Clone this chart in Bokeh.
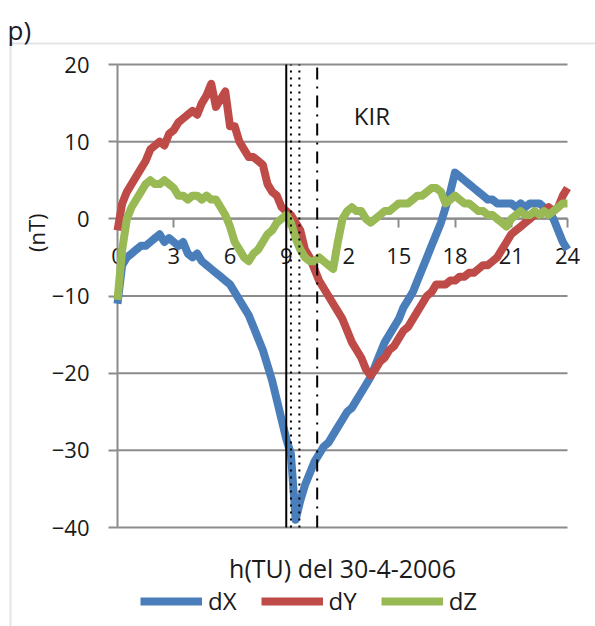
import math
from bokeh.plotting import figure
from bokeh.models import Label, Legend, LegendItem, FixedTicker, ColumnDataSource, BoxAnnotation
from bokeh.embed import file_html
from bokeh.resources import INLINE

# ---------------- data ----------------
hours = [i * 0.25 for i in range(97)]

dX = [-11, -6, -5, -4.5, -4, -3.5, -3.5, -3, -2.5, -2, -3, -2.5,
      -3, -3.5, -3, -4.5, -5, -4.5, -5.5, -6, -6.5, -7, -7.5, -8,
      -8.5, -9.5, -10.5, -11.5, -12.5, -14, -15.5, -17, -19, -21, -23.5, -26,
      -28.5, -30.5, -39, -36.5, -34.5, -33, -31.5, -30.5, -29.5, -29, -28, -27,
      -26, -25, -24.5, -23.5, -22.5, -21.5, -20.5, -19, -17.5, -16, -15, -14,
      -13, -11.5, -10.5, -9.5, -8, -6.5, -5, -3.5, -2, -0.5, 1.5, 3.5,
      6, 5.5, 5, 4.5, 4, 3.5, 3, 2.5, 2.5, 2, 2, 2,
      2, 1.5, 2, 1.5, 2, 2, 2, 1.5, 1, 0, -1.5, -3, -4]

dY = [-1.5, 2, 3.5, 4.5, 5.5, 6.5, 7.5, 9, 9.5, 10, 9.5, 11,
      11.5, 12.5, 13, 13.5, 14, 13.5, 15, 16, 17.5, 14.5, 15.5, 16.5,
      12, 12, 10, 9, 8, 8, 7.5, 7, 4.5, 3.5, 3, 1.5,
      1, 0.5, -0.5, -1.5, -4, -5, -6.5, -8, -9, -10, -11, -12,
      -13, -14.5, -16, -17, -18, -19.5, -20.3, -19.5, -18.5, -18, -17, -16.5,
      -15.5, -14.5, -14, -13, -12, -11, -10, -9.5, -8.5, -8.5, -8.5, -8,
      -8, -7.5, -7.5, -7, -7, -6.5, -6, -6, -5.5, -5, -4, -3,
      -2, -1.5, -1, -0.5, 0, 0.5, 0.5, 1, 1.5, 1, 1.5, 3, 4]

dZ = [-10.5, -4, 0, 1.5, 2.5, 3.5, 4.5, 5, 4.5, 4.5, 5, 4.5,
      4, 3, 3, 2.5, 3, 3, 2.5, 3, 2.5, 2.5, 1.5, 0.5,
      -1, -3, -4, -5, -5.5, -4.5, -4, -3, -2, -1.5, -0.5, 0,
      0.5, -0.5, -2.5, -4, -5, -5.5, -5.5, -5, -5.5, -6, -6.5, -3,
      0, 1, 1.5, 1, 1, 0, -0.5, 0, 0.5, 1, 1, 1.5,
      2, 2, 2, 2.5, 3, 3, 3.5, 4, 4, 3.5, 2, 2.5,
      3, 2.5, 2, 2, 1.5, 1, 1, 0.5, 0.5, 0, -0.5, -1,
      0, 0.5, 1, 0.5, 0.5, 1, 0.5, 1, 0.5, 1, 1.5, 2, 2]

x_ticks = [0, 3, 6, 9, 12, 15, 18, 21, 24]
y_ticks = [-40, -30, -20, -10, 0, 10, 20]
event_solid = [9.0]
event_dotted = [9.25, 9.7]
event_dashdot = [10.65]
series_names = ["dX", "dY", "dZ"]

FONT = "Open Sans"
GRID = "#8c8c8c"
TXT = "#1a1a1a"
COLORS = ["#4a7ebb", "#be4b48", "#98b954"]

# ---------------- layout geometry (pixels) ----------------
W, H = 595, 626            # canvas = frame
PX_PER_H = 18.75           # x scale
PX_PER_NT = 463 / 60       # y scale
X0_PX, Y20_PX = 117, 64    # canvas position of x=0 and y=20

x_lo = -X0_PX / PX_PER_H
x_hi = x_lo + W / PX_PER_H
y_hi = y_ticks[-1] + Y20_PX / PX_PER_NT
y_lo = y_hi - H / PX_PER_NT

src = ColumnDataSource(dict(h=hours, dX=dX, dY=dY, dZ=dZ))

p = figure(width=W, height=H, x_range=(x_lo, x_hi), y_range=(y_lo, y_hi),
           output_backend="svg", toolbar_location=None, min_border=0)
p.outline_line_color = None
p.background_fill_color = "white"
p.border_fill_color = "white"
p.xgrid.visible = False
p.ygrid.visible = False

# axes crossing at zero
p.xaxis.fixed_location = 0
p.yaxis.fixed_location = 0
p.xaxis.bounds = (x_ticks[0], x_ticks[-1])
p.yaxis.bounds = (y_ticks[0], y_ticks[-1])
p.xaxis.ticker = FixedTicker(ticks=x_ticks)
p.yaxis.ticker = FixedTicker(ticks=y_ticks)
for ax in (p.xaxis, p.yaxis):
    ax.level = "underlay"
    ax.axis_line_color = GRID
    ax.axis_line_width = 2
    ax.major_tick_line_color = GRID
    ax.major_tick_line_width = 2
    ax.major_tick_in = 0
    ax.major_tick_out = 9
    ax.minor_tick_line_color = None
    ax.major_label_text_font = FONT
    ax.major_label_text_font_size = "22px"
    ax.major_label_text_color = TXT
p.xaxis.major_label_standoff = 20
p.yaxis.major_label_standoff = 19

# horizontal gridlines over the data span
p.segment(x0=[x_ticks[0]] * len(y_ticks), x1=[x_ticks[-1]] * len(y_ticks),
          y0=y_ticks, y1=y_ticks, line_color=GRID, line_width=2, level="underlay")

renderers = []
for name, col in zip(series_names, COLORS):
    renderers.append(p.line("h", name, source=src, color=col, line_width=8, line_join="round"))

# event markers
ybot, ytop = y_ticks[0], y_ticks[-1]
p.segment(x0=event_solid, x1=event_solid, y0=[ybot] * len(event_solid), y1=[ytop] * len(event_solid),
          line_color="black", line_width=2)
p.segment(x0=event_dotted, x1=event_dotted, y0=[ybot] * len(event_dotted), y1=[ytop] * len(event_dotted),
          line_color="black", line_width=2, line_dash="2 5")
p.segment(x0=event_dashdot, x1=event_dashdot, y0=[ybot] * len(event_dashdot), y1=[ytop] * len(event_dashdot),
          line_color="black", line_width=2, line_dash="12 7 2 7")

# outer chart box (top and left edges visible)
p.add_layout(BoxAnnotation(left=x_lo + 10 / PX_PER_H, right=x_hi + 5,
                           top=y_hi - 43 / PX_PER_NT, bottom=y_lo - 5,
                           fill_alpha=0, line_color="#a6a6a6", line_width=2))

# texts
p.add_layout(Label(x=x_lo + 7 / PX_PER_H, y=y_hi - 29 / PX_PER_NT, text="p)",
                   text_baseline="middle",
                   text_font=FONT, text_font_size="26px", text_color="#1a1a2a"))
p.add_layout(Label(x=12.6, y=13.4, text="KIR", text_baseline="middle",
                   text_font=FONT, text_font_size="24px", text_color=TXT))
p.add_layout(Label(x=-4.35, y=-1.8, text="(nT)", angle=math.pi / 2, text_align="center",
                   text_baseline="middle", text_font=FONT, text_font_size="22px", text_color=TXT))
p.add_layout(Label(x=12.0, y=-45.2, text="h(TU) del 30-4-2006", text_align="center",
                   text_baseline="middle", text_font=FONT, text_font_size="25px", text_color=TXT))

legend = Legend(items=[LegendItem(label=n, renderers=[r]) for n, r in zip(series_names, renderers)],
                orientation="horizontal", location=(140, 9),
                label_text_font=FONT, label_text_font_size="24px", label_text_color=TXT,
                glyph_width=62, glyph_height=26, label_standoff=6, spacing=24,
                border_line_color=None, background_fill_alpha=0, padding=0, margin=0)
p.add_layout(legend, "center")

open("out.html", "w").write(file_html(p, INLINE))
